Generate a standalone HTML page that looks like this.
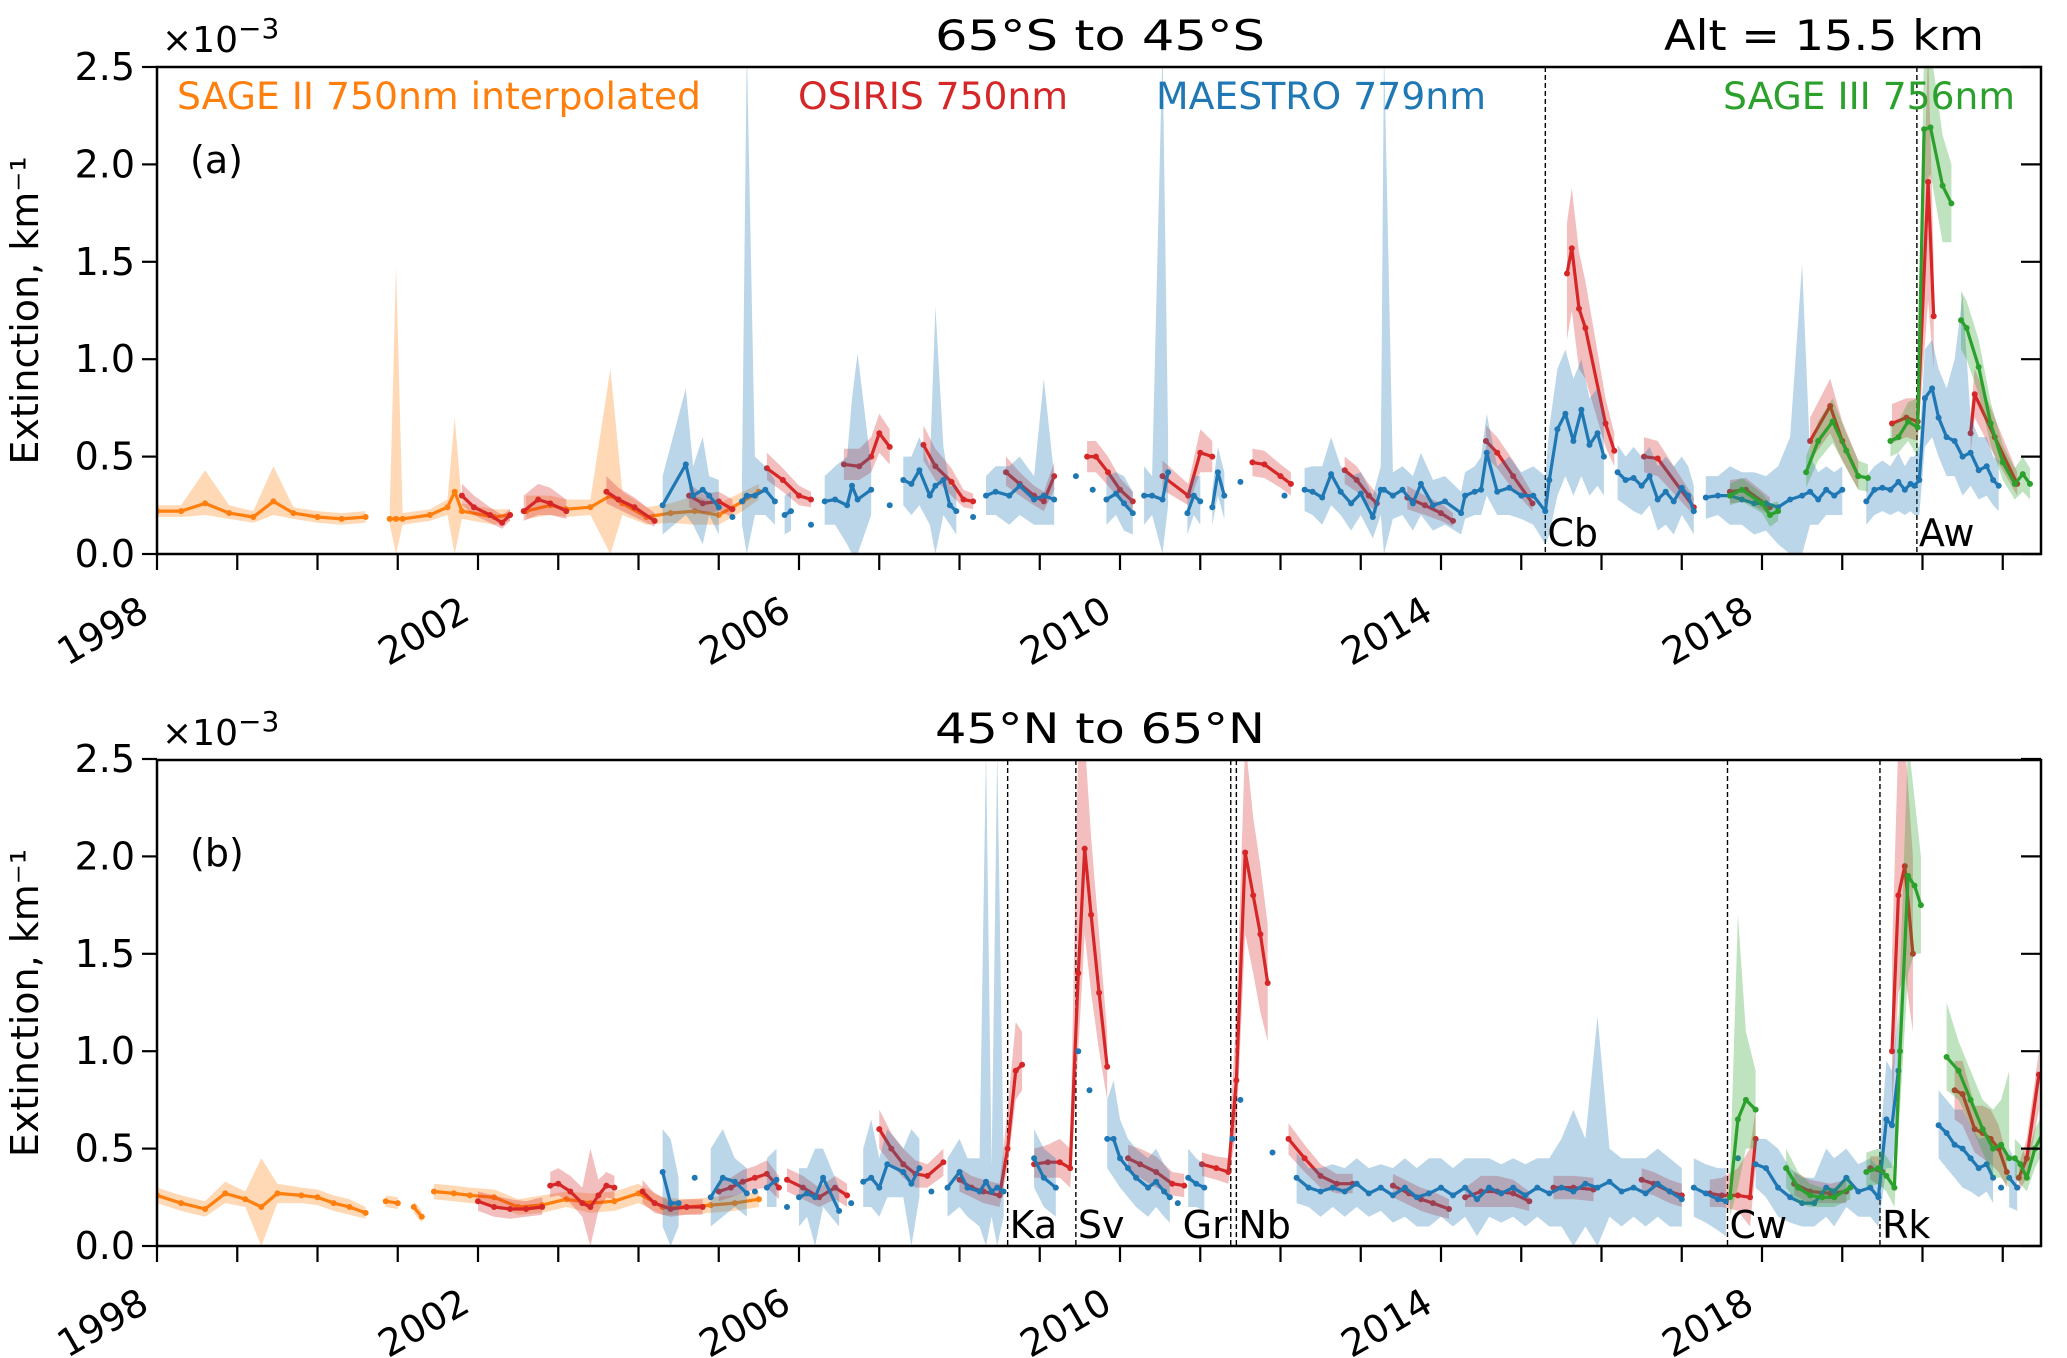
<!DOCTYPE html>
<html><head><meta charset="utf-8"><title>Extinction time series</title>
<style>
html,body{margin:0;padding:0;background:#fff;}
svg{display:block;font-family:"DejaVu Sans","Liberation Sans",sans-serif;}
</style></head>
<body>
<svg id="chart" width="2067" height="1358" viewBox="0 0 2067 1358" xmlns="http://www.w3.org/2000/svg">
<defs>
<clipPath id="clipA"><rect x="157" y="67" width="1884" height="487"/></clipPath>
<clipPath id="clipB"><rect x="157" y="760" width="1884" height="486"/></clipPath>
</defs>
<g id="layer"></g>
</svg>
<script>
// ---------- data (years, extinction x1e-3) rows: [t, value, low, high]; null breaks a line
const yTicks = [0, 0.5, 1.0, 1.5, 2.0, 2.5];
const yTickLabels = ["0.0","0.5","1.0","1.5","2.0","2.5"];
const xMinorTicks = [1998,1999,2000,2001,2002,2003,2004,2005,2006,2007,2008,2009,2010,2011,2012,2013,2014,2015,2016,2017,2018,2019,2020,2021];
const xLabelYears = [1998,2002,2006,2010,2014,2018];

const sage2A = [
[1998.0,.22,.19,.25],[1998.3,.22,.19,.25],[1998.6,.26,.2,.43],[1998.9,.21,.18,.25],[1999.2,.19,.16,.22],[1999.45,.27,.2,.45],[1999.7,.21,.18,.24],[2000.0,.19,.16,.22],[2000.3,.18,.15,.21],[2000.6,.19,.16,.22],null,
[2000.9,.18,.15,.21],[2000.98,.18,0,1.48],[2001.06,.18,.15,.21],[2001.4,.2,.17,.23],[2001.62,.24,.2,.28],[2001.71,.32,0,.7],[2001.8,.22,.18,.26],[2002.2,.19,.15,.23],[2002.4,.2,.17,.23],null,
[2002.6,.22,.18,.3],[2002.9,.25,.2,.3],[2003.1,.23,.19,.28],[2003.4,.24,.2,.28],[2003.65,.3,0,.95],[2003.8,.26,.2,.32],[2004.1,.19,.15,.24],[2004.4,.21,.16,.26],[2004.7,.22,.15,.3],[2005.0,.2,.15,.26],[2005.3,.27,.22,.32],[2005.5,.32,.28,.36]
];
const osirisA = [
[2001.8,.3,.25,.36],[2001.95,.24,.2,.3],[2002.15,.2,.16,.24],[2002.3,.16,.13,.2],[2002.4,.2,.17,.23],null,
[2002.57,.22,.17,.3],[2002.75,.28,.2,.36],[2002.9,.26,.2,.34],[2003.1,.22,.18,.28],null,
[2003.6,.32,.26,.4],[2003.75,.28,.23,.34],[2003.95,.24,.19,.29],[2004.2,.17,.14,.21],null,
[2004.63,.3,.24,.36],[2004.8,.26,.21,.31],[2005.0,.27,.22,.32],[2005.17,.23,.19,.28],null,
[2005.6,.44,.38,.52],[2005.8,.38,.32,.44],[2006.0,.3,.25,.35],[2006.15,.28,.24,.32],null,
[2006.56,.46,.38,.54],[2006.75,.45,.38,.54],[2006.9,.5,.42,.6],[2007.0,.62,.52,.72],[2007.13,.55,.46,.64],null,
[2007.55,.56,.48,.66],[2007.7,.45,.38,.54],[2007.9,.37,.3,.44],[2008.05,.28,.24,.33],[2008.17,.27,.23,.31],null,
[2008.58,.42,.35,.5],[2008.75,.36,.3,.42],[2008.93,.3,.25,.35],[2009.05,.27,.22,.32],[2009.18,.4,.33,.47],null,
[2009.59,.5,.42,.58],[2009.7,.5,.42,.58],[2009.85,.42,.35,.5],[2010.0,.33,.28,.39],[2010.16,.27,.22,.32],null,
[2010.53,.4,.33,.48],[2010.85,.3,.25,.36],[2011.0,.52,.42,.64],[2011.15,.5,.42,.58],null,
[2011.65,.47,.4,.54],[2011.8,.46,.39,.53],[2012.0,.4,.34,.46],[2012.13,.36,.3,.42],null,
[2012.8,.43,.36,.5],[2012.95,.38,.32,.45],[2013.1,.3,.25,.36],[2013.2,.26,.21,.31],null,
[2013.58,.29,.23,.35],[2013.8,.25,.2,.3],[2014.0,.21,.17,.26],[2014.15,.17,.14,.21],null,
[2014.56,.58,.5,.66],[2014.7,.52,.44,.6],[2014.9,.4,.33,.48],[2015.14,.26,.22,.31],null,
[2015.57,1.44,1.1,1.7],[2015.63,1.57,1.25,1.88],[2015.72,1.26,.95,1.55],[2015.8,1.16,.9,1.4],[2016.05,.67,.55,.8],[2016.16,.53,.45,.62],null,
[2016.53,.5,.42,.6],[2016.7,.49,.4,.58],[2017.15,.24,.2,.29],null,
[2017.6,.32,.26,.38],[2017.8,.33,.27,.39],[2018.1,.24,.2,.29],null,
[2018.6,.58,.48,.7],[2018.85,.76,.62,.9],[2019.0,.58,.48,.68],[2019.2,.4,.33,.48],null,
[2019.62,.67,.57,.77],[2019.8,.7,.6,.8],[2019.94,.68,.58,.8],[2020.07,1.91,1.3,2.6],[2020.14,1.22,.95,1.5],null,
[2020.6,.62,.52,.72],[2020.65,.82,.7,.95],[2020.9,.6,.5,.7],[2021.18,.36,.3,.42]
];
const sage3A = [
[2017.6,.3,.25,.36],[2017.75,.33,.27,.39],[2018.0,.26,.21,.31],[2018.1,.2,.14,.26],[2018.2,.22,.17,.27],null,
[2018.55,.42,.34,.5],[2018.7,.58,.48,.68],[2018.88,.68,.57,.8],[2019.05,.53,.44,.62],[2019.2,.4,.33,.48],[2019.32,.39,.32,.46],null,
[2019.6,.58,.5,.66],[2019.7,.6,.52,.68],[2019.82,.68,.58,.78],[2019.94,.65,.5,.8],[2020.02,2.18,1.9,2.6],[2020.1,2.19,1.95,2.6],[2020.25,1.89,1.6,2.15],[2020.36,1.8,1.6,2.0],null,
[2020.48,1.2,1.05,1.35],[2020.55,1.16,1.0,1.3],[2020.7,.96,.82,1.1],[2020.85,.67,.56,.78],[2021.0,.47,.38,.56],[2021.15,.36,.28,.44],[2021.25,.41,.32,.5],[2021.34,.36,.28,.44]
];
const maestroA = [
[2004.3,.25,.1,.4],[2004.59,.46,.2,.85],[2004.68,.3,.15,.45],[2004.8,.33,.05,.6],[2004.88,.3,.2,.4],[2005.0,.24,.1,.38],null,[2005.17,.19,.12,.26],null,
[2005.29,.27,.15,.4],[2005.35,.3,0,2.6],[2005.45,.3,.2,.5],[2005.58,.33,.2,.45],[2005.7,.27,.15,.38],null,[2005.82,.2,.1,.3],[2005.9,.22,.12,.32],null,[2006.15,.15,.08,.22],null,
[2006.32,.27,.15,.4],[2006.45,.28,.15,.45],[2006.6,.25,.05,.5],[2006.66,.35,0,.8],[2006.73,.28,0,1.03],[2006.9,.33,.2,.45],null,[2007.13,.25,.15,.35],null,
[2007.3,.38,.25,.5],[2007.4,.36,.2,.5],[2007.5,.43,.25,.6],[2007.63,.3,.15,.45],[2007.7,.35,0,1.27],[2007.8,.38,.2,.55],[2007.88,.25,.15,.35],[2007.96,.22,.1,.35],null,[2008.17,.19,.1,.28],null,
[2008.33,.3,.2,.4],[2008.45,.32,.2,.45],[2008.62,.3,.15,.45],[2008.75,.35,.2,.5],[2008.93,.28,.15,.4],[2009.05,.3,.15,.9],[2009.18,.28,.15,.4],null,
[2009.45,.4,.3,.5],null,[2009.66,.33,.25,.4],null,
[2009.83,.28,.15,.4],[2009.95,.31,.2,.42],[2010.05,.26,.12,.4],[2010.16,.21,.1,.32],null,
[2010.3,.3,.15,.45],[2010.4,.3,.2,.4],[2010.53,.28,0,2.6],[2010.6,.42,.25,.6],null,
[2010.84,.21,.1,.32],[2010.92,.3,.2,.4],[2011.0,.27,.15,.4],null,[2011.15,.24,.15,.33],[2011.22,.42,.3,.55],[2011.3,.3,.18,.42],null,
[2011.5,.37,.3,.44],null,[2012.05,.3,.22,.38],null,
[2012.3,.33,.22,.44],[2012.4,.32,.2,.45],[2012.52,.29,.15,.45],[2012.63,.41,.25,.6],[2012.75,.32,.2,.45],[2012.88,.26,.12,.4],[2013.0,.31,.2,.42],[2013.15,.19,.08,.3],
[2013.25,.33,.2,.45],[2013.29,.33,0,2.6],[2013.4,.3,.18,.42],[2013.52,.33,.2,.45],[2013.65,.26,.12,.4],[2013.75,.36,.2,.52],[2013.9,.25,.12,.38],[2014.05,.27,.15,.4],[2014.25,.21,.1,.32],
[2014.3,.3,.18,.42],[2014.42,.32,.2,.45],[2014.5,.33,.2,.5],[2014.57,.52,.3,.72],[2014.7,.32,.2,.45],[2014.85,.34,.2,.5],[2015.0,.3,.18,.42],[2015.15,.3,.15,.45],[2015.3,.22,.05,.4],
[2015.35,.38,.1,.65],[2015.45,.64,.3,.95],[2015.55,.72,.4,1.05],[2015.65,.58,.3,.9],[2015.75,.74,.4,1.0],[2015.85,.56,.3,.8],[2015.95,.62,.35,.85],[2016.03,.5,.3,.7],null,
[2016.2,.42,.28,.56],[2016.3,.38,.25,.5],[2016.4,.39,.22,.55],[2016.5,.35,.2,.5],[2016.6,.4,.25,.55],[2016.7,.28,.12,.45],[2016.8,.32,.15,.5],[2016.9,.27,.1,.45],[2017.0,.34,.2,.5],[2017.08,.3,.15,.45],[2017.15,.22,.1,.35],null,
[2017.3,.29,.18,.4],[2017.45,.3,.2,.4],[2017.6,.3,.15,.45],[2017.75,.28,.15,.42],[2017.9,.26,.1,.42],[2018.05,.26,.12,.4],[2018.2,.24,.05,.45],[2018.35,.28,0,.6],[2018.5,.3,0,1.49],[2018.6,.32,.15,.5],[2018.7,.28,.15,.42],[2018.8,.33,.2,.45],[2018.9,.3,.2,.42],[2019.0,.33,.2,.45],null,
[2019.3,.27,.15,.4],[2019.4,.33,.2,.45],[2019.5,.34,.22,.48],[2019.6,.33,.2,.45],[2019.7,.37,.22,.52],[2019.78,.33,.2,.45],[2019.85,.36,.22,.5],[2019.9,.35,.2,.5],[2019.96,.38,.2,.56],
[2020.03,.8,.55,1.05],[2020.12,.85,.6,1.1],[2020.2,.7,.5,.95],[2020.3,.6,.4,.85],[2020.4,.58,.4,1.0],[2020.5,.5,.3,1.33],[2020.6,.52,.35,.7],[2020.7,.43,.28,.6],[2020.8,.45,.3,.6],[2020.88,.38,.25,.5],[2020.95,.35,.22,.48]
];

const sage2B = [
[1998.0,.26,.22,.3],[1998.3,.22,.18,.26],[1998.6,.19,.15,.23],[1998.85,.27,.22,.33],[1999.1,.24,.2,.28],[1999.3,.2,0,.45],[1999.5,.27,.22,.32],[1999.8,.26,.22,.3],[2000.0,.25,.21,.29],[2000.2,.22,.18,.26],[2000.4,.2,.16,.24],[2000.6,.17,.14,.2],null,
[2000.85,.23,.2,.26],[2001.0,.22,.19,.25],null,[2001.2,.2,.17,.23],[2001.3,.15,.12,.18],null,
[2001.45,.28,.24,.32],[2001.7,.27,.23,.31],[2001.9,.26,.22,.3],[2002.2,.25,.21,.29],[2002.5,.2,.16,.24],[2002.8,.21,.17,.26],[2003.1,.24,.2,.28],[2003.4,.22,.17,.27],[2003.7,.23,.18,.28],[2004.0,.27,.22,.32],[2004.3,.2,.16,.25],[2004.6,.2,.16,.24],[2004.9,.21,.17,.25],[2005.2,.22,.18,.26],[2005.5,.24,.2,.28]
];
const osirisB = [
[2002.0,.23,.18,.28],[2002.2,.2,.15,.26],[2002.4,.19,.14,.24],[2002.6,.19,.15,.23],[2002.8,.2,.16,.25],null,
[2002.9,.31,.25,.38],[2003.0,.32,.26,.4],[2003.15,.28,.22,.36],[2003.3,.22,.15,.3],[2003.4,.2,0,.5],[2003.5,.26,.18,.34],[2003.6,.31,.25,.38],[2003.7,.3,.24,.36],null,
[2004.05,.28,.22,.34],[2004.2,.22,.17,.27],[2004.4,.19,.15,.23],[2004.6,.2,.16,.24],[2004.8,.2,.16,.24],null,
[2005.0,.28,.23,.33],[2005.15,.3,.25,.35],[2005.3,.33,.27,.39],[2005.45,.35,.29,.41],[2005.6,.37,.3,.44],[2005.75,.3,.24,.36],null,
[2005.85,.34,.28,.4],[2006.05,.3,.24,.36],[2006.25,.25,.2,.3],[2006.45,.3,.24,.36],[2006.6,.26,.2,.32],null,
[2007.0,.6,.5,.7],[2007.15,.5,.42,.58],[2007.3,.42,.35,.5],[2007.45,.37,.3,.44],[2007.6,.36,.3,.42],[2007.8,.43,.36,.5],null,
[2008.0,.34,.28,.4],[2008.15,.3,.25,.36],[2008.3,.28,.22,.34],[2008.5,.26,.2,.32],[2008.6,.5,.4,.7],[2008.7,.9,.75,1.15],[2008.78,.93,.8,1.1],null,
[2008.93,.42,.35,.5],[2009.1,.43,.35,.52],[2009.25,.43,.35,.55],[2009.38,.4,.3,.5],[2009.48,1.4,1.0,2.6],[2009.56,2.04,1.6,2.6],[2009.64,1.7,1.3,2.1],[2009.74,1.3,1.0,1.6],[2009.84,.92,.75,1.1],null,
[2010.1,.45,.38,.52],[2010.25,.42,.35,.5],[2010.45,.38,.3,.46],[2010.65,.32,.26,.38],[2010.8,.31,.25,.37],null,
[2011.02,.42,.36,.48],[2011.2,.4,.34,.46],[2011.35,.38,.32,.45],[2011.45,.85,.6,1.2],[2011.56,2.02,1.6,2.6],[2011.66,1.8,1.4,2.2],[2011.75,1.6,1.2,1.95],[2011.84,1.35,1.05,1.65],null,
[2012.1,.55,.47,.63],[2012.3,.45,.38,.52],[2012.5,.36,.3,.42],[2012.7,.32,.27,.37],[2012.9,.32,.27,.37],null,
[2013.4,.31,.25,.37],[2013.6,.27,.21,.33],[2013.75,.24,.18,.3],[2013.9,.22,.16,.28],[2014.1,.19,.14,.24],null,
[2014.3,.25,.2,.3],[2014.5,.28,.2,.36],[2014.7,.28,.2,.36],[2014.9,.27,.2,.34],[2015.1,.23,.18,.28],null,
[2015.4,.3,.24,.36],[2015.65,.3,.24,.36],[2015.9,.29,.23,.35],null,
[2016.5,.34,.28,.4],[2016.65,.32,.26,.38],[2016.85,.28,.22,.34],[2017.0,.26,.2,.32],null,
[2017.35,.27,.2,.34],[2017.5,.26,.2,.35],[2017.7,.26,.18,.4],[2017.85,.25,.1,.5],[2017.92,.55,.4,.7],null,
[2018.4,.32,.26,.38],[2018.6,.28,.22,.34],[2018.85,.27,.22,.32],[2019.05,.28,.22,.34],null,
[2019.35,.4,.34,.46],[2019.5,.38,.3,.46],null,
[2019.62,1.0,.7,1.5],[2019.7,1.8,1.3,2.6],[2019.78,1.95,1.4,2.6],[2019.88,1.5,1.1,2.0],null,
[2020.4,.8,.65,.95],[2020.5,.78,.62,.95],[2020.65,.6,.48,.72],[2020.75,.58,.45,.72],[2020.85,.55,.42,.7],[2020.95,.5,.38,.62],[2021.05,.38,.3,.46],null,
[2021.2,.35,.28,.42],[2021.3,.45,.35,.55],[2021.45,.88,.7,1.0]
];
const sage3B = [
[2017.6,.25,.15,.35],[2017.7,.65,.3,1.7],[2017.8,.75,.5,1.1],[2017.92,.7,.5,.9],null,
[2018.3,.4,.3,.5],[2018.45,.3,.22,.38],[2018.6,.26,.2,.32],[2018.75,.25,.2,.3],[2018.9,.25,.2,.3],[2019.1,.3,.24,.36],null,
[2019.3,.38,.3,.48],[2019.45,.4,.32,.5],[2019.55,.36,.28,.46],[2019.65,.3,.2,.4],[2019.72,1.0,.7,1.4],[2019.82,1.9,1.4,2.6],[2019.9,1.85,1.5,2.3],[2019.98,1.75,1.5,2.0],null,
[2020.3,.97,.8,1.25],[2020.45,.9,.75,1.05],[2020.6,.75,.62,.9],[2020.75,.6,.48,.75],[2020.88,.5,.35,.7],[2020.98,.52,.35,.75],[2021.08,.45,.3,.9],null,
[2021.15,.45,.35,.55],[2021.22,.42,.32,.52],[2021.3,.35,.28,.45],[2021.4,.5,.4,.6],[2021.5,.58,.48,.68]
];
const maestroB = [
[2004.3,.38,.1,.6],[2004.4,.22,0,.55],[2004.5,.22,.1,.35],null,[2004.7,.35,.25,.45],null,
[2004.9,.25,.1,.5],[2005.05,.35,.15,.6],[2005.2,.33,.2,.45],[2005.35,.27,.15,.4],null,[2005.45,.28,.2,.35],null,
[2005.6,.3,.2,.45],[2005.72,.34,.2,.5],null,[2005.85,.2,.1,.3],null,
[2006.0,.25,.1,.4],[2006.1,.27,.15,.4],[2006.2,.25,0,.5],[2006.3,.35,.2,.5],[2006.5,.18,.1,.3],null,[2006.65,.22,.15,.3],null,
[2006.8,.33,.2,.5],[2006.9,.35,.2,.65],[2007.0,.3,.15,.45],[2007.1,.42,.25,.6],[2007.3,.38,.25,.5],[2007.4,.32,0,.6],[2007.5,.4,.25,.55],null,[2007.65,.28,.2,.36],null,
[2007.85,.3,.15,.45],[2008.0,.38,.2,.55],[2008.1,.3,.15,.45],[2008.25,.28,.1,.45],[2008.33,.33,0,2.55],[2008.4,.28,.15,.4],[2008.47,.3,0,2.55],[2008.55,.28,.15,.45],null,
[2008.93,.45,.3,.6],[2009.05,.35,.2,.5],[2009.2,.3,.15,.45],null,[2009.48,1.0,.9,1.1],null,[2009.62,.8,.7,.9],null,
[2009.84,.55,.4,.75],[2009.92,.55,.35,.85],[2010.0,.45,.3,.65],[2010.1,.4,.25,.55],[2010.2,.35,.2,.5],[2010.35,.3,.15,.45],[2010.45,.33,.2,.5],[2010.55,.28,.15,.42],[2010.62,.25,.12,.38],null,[2010.72,.22,.15,.3],null,
[2010.85,.35,.2,.5],[2010.95,.32,.2,.45],[2011.05,.3,.18,.42],null,[2011.4,.55,.45,.65],null,[2011.5,.75,.65,.85],null,[2011.9,.48,.4,.56],null,
[2012.2,.35,.22,.48],[2012.35,.3,.2,.4],[2012.5,.28,.15,.4],[2012.65,.3,.2,.42],[2012.8,.28,.15,.4],[2012.95,.32,.2,.45],[2013.1,.27,.15,.4],[2013.25,.3,.18,.42],[2013.4,.26,.12,.4],[2013.55,.3,.15,.45],[2013.7,.25,.1,.4],[2013.85,.27,.1,.45],
[2014.0,.3,.15,.45],[2014.15,.26,.1,.4],[2014.3,.3,.15,.45],[2014.45,.24,.05,.45],[2014.6,.3,.15,.45],[2014.75,.27,.12,.42],[2014.9,.3,.15,.45],[2015.05,.26,.1,.42],[2015.2,.3,.15,.45],[2015.35,.27,.1,.45],
[2015.5,.3,.1,.55],[2015.65,.28,0,.7],[2015.8,.32,.1,.55],[2015.95,.3,0,1.18],[2016.1,.33,.15,.5],[2016.25,.28,.1,.45],[2016.4,.3,.15,.45],[2016.55,.27,.1,.45],[2016.7,.32,.15,.5],[2016.85,.28,.1,.45],[2017.0,.24,.1,.4],null,
[2017.15,.3,.15,.45],[2017.3,.27,.12,.42],[2017.45,.24,.08,.4],[2017.55,.23,.05,.4],null,
[2017.7,.45,.35,.55],null,[2017.92,.42,.3,.55],[2018.05,.4,.25,.55],[2018.2,.3,.15,.5],[2018.35,.25,.12,.4],[2018.5,.22,.1,.35],[2018.65,.22,.1,.35],[2018.8,.3,.15,.5],[2018.9,.28,.1,.45],[2019.05,.35,.2,.5],[2019.2,.28,.15,.42],[2019.35,.3,.15,.45],[2019.45,.25,.1,.4],
[2019.55,.65,.4,.95],[2019.62,.62,.4,.9],[2019.7,.9,.6,1.2],null,
[2020.2,.62,.45,.8],[2020.3,.58,.4,.75],[2020.4,.52,.35,.7],[2020.5,.5,.3,.7],[2020.6,.45,.28,.62],[2020.7,.4,.25,.55],[2020.8,.42,.28,.56],[2020.88,.35,.22,.48],null,[2020.98,.3,.22,.38],null,
[2021.08,.35,.2,.5],[2021.18,.3,.18,.42]
];
const eventsA = [["Cb",2015.3,"after"],["Aw",2019.93,"after"]];
const eventsB = [["Ka",2008.6,"after"],["Sv",2009.45,"after"],["Gr",2011.38,"before"],["Nb",2011.45,"after"],["Cw",2017.57,"after"],["Rk",2019.47,"after"]];

// ---------- rendering
const NS = "http://www.w3.org/2000/svg";
const layer = document.getElementById('layer');
const X0 = 157, X1 = 2041, T0 = 1998, PXY = 80.25;
function xScale(t){ return X0 + (t - T0) * PXY; }
function makeY(bottom){ return function(v){ return bottom - v / 2.5 * 487; }; }
function el(tag, attrs, parent){ const e = document.createElementNS(NS, tag); for (const k in attrs) e.setAttribute(k, attrs[k]); (parent||layer).appendChild(e); return e; }
function segments(rows){ const segs=[]; let cur=[]; rows.forEach(r=>{ if(r===null){ if(cur.length) segs.push(cur); cur=[]; } else cur.push(r); }); if(cur.length) segs.push(cur); return segs; }

function drawSeries(g, rows, yS, color, name){
  const segs = segments(rows);
  segs.forEach(s=>{
    if (s.length > 1){
      let d = s.map((r,i)=>(i?'L':'M')+xScale(r[0]).toFixed(1)+','+yS(r[3]).toFixed(1)).join('');
      for (let i=s.length-1;i>=0;i--) d += 'L'+xScale(s[i][0]).toFixed(1)+','+yS(s[i][2]).toFixed(1);
      const b = el('path',{d:d+'Z',fill:color,'fill-opacity':0.3,stroke:'none'},g);
      
      
    }
  });
  segs.forEach(s=>{
    if (s.length > 1){
      const d = s.map((r,i)=>(i?'L':'M')+xScale(r[0]).toFixed(1)+','+yS(r[1]).toFixed(1)).join('');
      const l = el('path',{d:d,fill:'none',stroke:color,'stroke-width':3.2,'stroke-linejoin':'round'},g);
      
      
    }
    s.forEach(r=>{
      const c = el('circle',{cx:xScale(r[0]).toFixed(1),cy:yS(r[1]).toFixed(1),r:3,fill:color},g);
      
      
    });
  });
}

function text(str, x, y, size, attrs, parent){
  const t = el('text', Object.assign({x:x,y:y,'font-size':size,fill:'#000'}, attrs||{}), parent);
  t.textContent = str; return t;
}

function drawPanel(top, bottom, clipId, series, events, title, letter, showAlt){
  const yS = makeY(bottom);
  const pg = el('g',{});
  
  
  const dg = el('g',{'clip-path':'url(#'+clipId+')'},pg);
  events.forEach(ev=>{
    const ln = el('line',{x1:xScale(ev[1]),x2:xScale(ev[1]),y1:top,y2:bottom,stroke:'#000','stroke-width':1.4,'stroke-dasharray':'5,3'},dg);
    
    
  });
  series.forEach(s=>drawSeries(dg, s[0], yS, s[1], s[2]));
  events.forEach(ev=>{
    const xx = xScale(ev[1]);
    const t = text(ev[0], ev[2]==='after'? xx+2 : xx-3, bottom-8, 38, {'text-anchor': ev[2]==='after'?'start':'end'}, pg);
    
    
  });
  const fr = el('rect',{x:X0,y:top,width:X1-X0,height:bottom-top,fill:'none',stroke:'#000','stroke-width':2.5},pg);
  
  
  yTicks.forEach((v,i)=>{
    const yy = yS(v);
    el('line',{x1:X0-15,x2:X0,y1:yy,y2:yy,stroke:'#000','stroke-width':2.2},pg);
    el('line',{x1:X1-20,x2:X1,y1:yy,y2:yy,stroke:'#000','stroke-width':2.2},pg);
    const t = text(yTickLabels[i], X0-22, yy+13, 38, {'text-anchor':'end'}, pg);
    
    
  });
  xMinorTicks.forEach(yr=>{
    const xx = xScale(yr);
    el('line',{x1:xx,x2:xx,y1:bottom,y2:bottom+16,stroke:'#000','stroke-width':2.2},pg);
  });
  xLabelYears.forEach(yr=>{
    const px = xScale(yr)-6, py = bottom+64;
    const t = text(String(yr), px, py, 38, {'text-anchor':'end',transform:'rotate(-30 '+px+' '+py+')'}, pg);
    
    
  });
  const ex = el('text',{x:162,y:top-15,'font-size':36,fill:'#000'},pg);
  ex.innerHTML = '×10<tspan dy="-14" font-size="28">−3</tspan>';
  
  
  const tt = text(title, 1100, top-17, 42, {'text-anchor':'middle',textLength:330,lengthAdjust:'spacingAndGlyphs'}, pg);
  
  
  const lt = text(letter, 190, top+106, 38, {}, pg);
  
  
  const yl = text('Extinction, km⁻¹', 0, 0, 38, {'text-anchor':'middle',transform:'translate(38 '+((top+bottom)/2)+') rotate(-90)'}, pg);
  
  
  if (showAlt){
    const al = text('Alt = 15.5 km', 1984, top-17, 42, {'text-anchor':'end',textLength:320,lengthAdjust:'spacingAndGlyphs'}, pg);
    
    
    const leg = [["SAGE II 750nm interpolated",177,524,'#ff7f0e'],["OSIRIS 750nm",798,270,'#d62728'],["MAESTRO 779nm",1156,330,'#1f77b4'],["SAGE III 756nm",1723,292,'#2ca02c']];
    leg.forEach(l=>{
      const t = text(l[0], l[1], top+42, 37, {fill:l[3],textLength:l[2],lengthAdjust:'spacingAndGlyphs'}, pg);
      
      
    });
  }
}

drawPanel(67, 554, 'clipA', [[sage2A,'#ff7f0e','sage2'],[osirisA,'#d62728','osiris'],[maestroA,'#1f77b4','maestro'],[sage3A,'#2ca02c','sage3']], eventsA, '65°S to 45°S', '(a)', true);
drawPanel(760, 1246, 'clipB', [[sage2B,'#ff7f0e','sage2'],[osirisB,'#d62728','osiris'],[maestroB,'#1f77b4','maestro'],[sage3B,'#2ca02c','sage3']], eventsB, '45°N to 65°N', '(b)', false);
</script>
</body></html>
